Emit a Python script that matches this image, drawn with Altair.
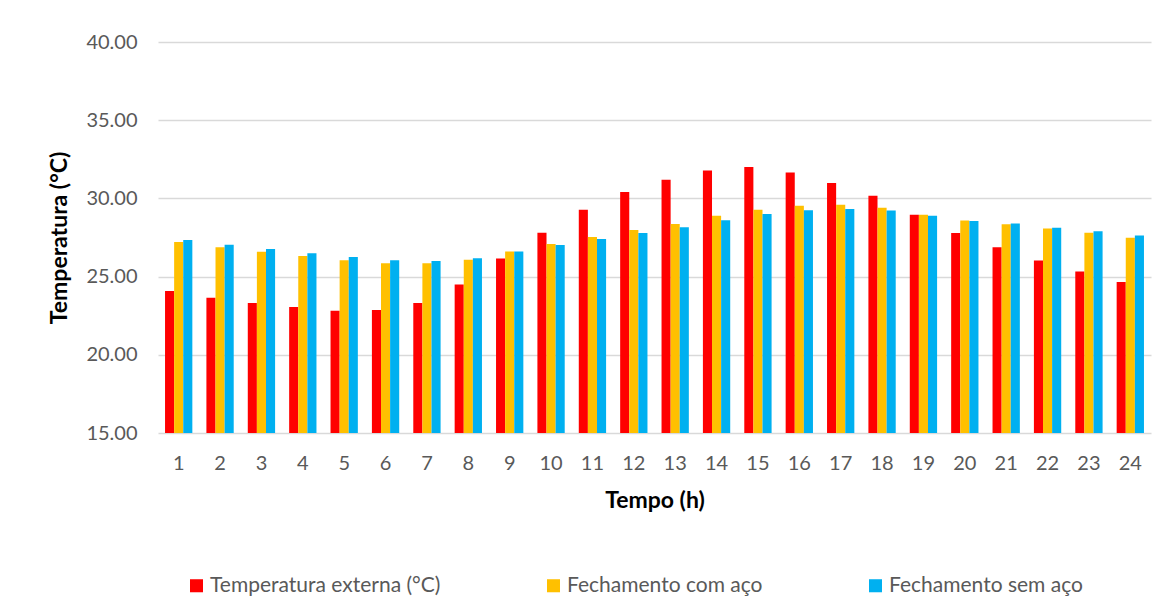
import altair as alt
import pandas as pd

hours = list(range(1, 25))
series_names = ["Temperatura externa (°C)", "Fechamento com aço", "Fechamento sem aço"]
temp_externa = [24.08, 23.65, 23.31, 23.05, 22.82, 22.87, 23.31, 24.49, 26.15, 27.81,
                29.27, 30.41, 31.20, 31.78, 32.00, 31.65, 30.99, 30.17, 28.95, 27.79,
                26.87, 26.03, 25.32, 24.66]
com_aco = [27.21, 26.87, 26.59, 26.31, 26.05, 25.86, 25.86, 26.07, 26.61, 27.08,
           27.53, 27.98, 28.37, 28.89, 29.27, 29.53, 29.59, 29.40, 28.95, 28.58,
           28.35, 28.07, 27.81, 27.49]
sem_aco = [27.34, 27.04, 26.76, 26.50, 26.25, 26.05, 25.99, 26.18, 26.61, 27.02,
           27.41, 27.79, 28.16, 28.61, 29.01, 29.25, 29.32, 29.23, 28.89, 28.56,
           28.39, 28.13, 27.90, 27.62]
colors = ["#FF0000", "#FFC000", "#00B0F0"]

rows = []
for name, vals in zip(series_names, [temp_externa, com_aco, sem_aco]):
    for h, v in zip(hours, vals):
        rows.append({"Tempo": str(h), "Serie": name, "Valor": v})
df = pd.DataFrame(rows)

font = "Lato"

chart = alt.Chart(df).mark_bar(clip=True).encode(
    x=alt.X("Tempo:N", sort=[str(h) for h in hours],
            scale=alt.Scale(paddingInner=0.34, paddingOuter=0.17),
            axis=alt.Axis(title="Tempo (h)", labelAngle=0, ticks=False, domain=False,
                          labelFontSize=20, labelColor="#595959", labelFont=font,
                          labelPadding=20, titleFont=font, titleFontSize=23,
                          titleFontWeight="bold", titleColor="#000000", titlePadding=16)),
    xOffset=alt.XOffset("Serie:N", sort=series_names, scale=alt.Scale(domain=series_names)),
    y=alt.Y("Valor:Q",
            scale=alt.Scale(domain=[15, 40], zero=False, nice=False),
            axis=alt.Axis(title="Temperatura (°C)", values=[15, 20, 25, 30, 35, 40],
                          format=".2f", ticks=False, domain=False, gridColor="#D9D9D9",
                          gridWidth=1.3, labelFontSize=20, labelColor="#595959",
                          labelFont=font, labelPadding=21, titleFont=font,
                          titleFontSize=23, titleFontWeight="bold", titleColor="#000000",
                          titlePadding=14)),
    color=alt.Color("Serie:N", sort=series_names,
                    scale=alt.Scale(domain=series_names, range=colors),
                    legend=alt.Legend(title=None, orient="none", direction="horizontal",
                                      legendX=28, legendY=533, symbolType="square",
                                      symbolSize=170, symbolStrokeWidth=0,
                                      labelFontSize=21, labelColor="#595959",
                                      labelFont=font, labelOffset=3, labelLimit=0,
                                      columnPadding=102)),
).properties(
    width=993, height=391, background="white",
    padding={"left": 40, "top": 24, "right": 10, "bottom": 5},
).configure_view(strokeWidth=0, stroke=None)

chart.save("out.html", embed_options={"renderer": "svg", "actions": False})
